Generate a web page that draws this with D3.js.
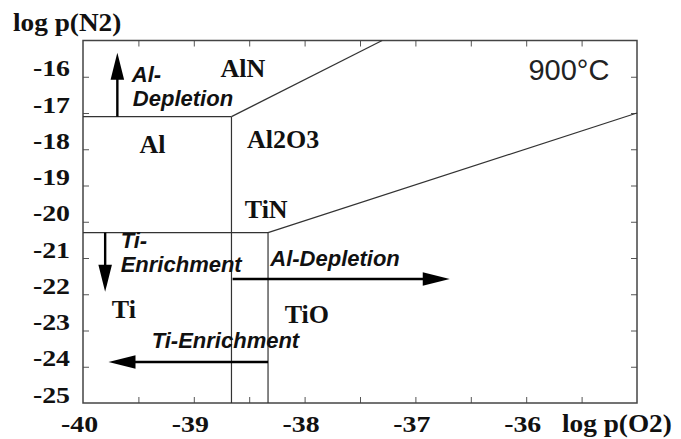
<!DOCTYPE html>
<html>
<head>
<meta charset="utf-8">
<script src="https://cdn.jsdelivr.net/npm/d3@7"></script>
<style>
  body { margin: 0; background: #fff; }
  svg { display: block; }
</style>
</head>
<body>
<svg id="chart" width="681" height="439"></svg>
<script>
// stability diagram, 900°C : log p(O2) on x, log p(N2) on y

// phase boundaries [logpO2, logpN2]
const alAlnBoundary = [[-40, -17.1], [-38.66, -17.1]];
const alnAl2o3Boundary = [[-38.66, -17.1], [-37.3, -15]];
const alAl2o3Boundary = [[-38.66, -17.1], [-38.66, -25]];
const tiTinBoundary = [[-40, -20.3], [-38.33, -20.3]];
const tinTioBoundary = [[-38.33, -20.3], [-35, -17]];
const tiTioBoundary = [[-38.33, -20.3], [-38.33, -25]];

// arrows: start, tip
const arrowFrom = [[-39.69, -17.1], [-39.8, -20.3], [-38.65, -21.58], [-38.33, -23.87]];
const arrowTo = [[-39.69, -15.34], [-39.8, -21.93], [-36.69, -21.58], [-39.77, -23.87]];

// phase names and where they sit
const phaseNames = ['AlN', 'Al', 'Al2O3', 'TiN', 'Ti', 'TiO'];
const phaseAt = [[-38.76, -16.0], [-39.49, -18.1], [-38.52, -17.97], [-38.54, -19.9], [-39.74, -22.66], [-38.18, -22.8]];

// italic notes
const noteText = ['Al-', 'Depletion', 'Ti-', 'Enrichment', 'Al-Depletion', 'Ti-Enrichment'];
const noteAt = [[-39.56, -16.14], [-39.55, -16.81], [-39.66, -20.72], [-39.66, -21.38], [-38.31, -21.22], [-39.38, -23.48]];

const tempLabel = '900°C';
const tempAt = [-35.98, -16.09];

// axes
const xDomain = [-40, -35];
const yDomain = [-25, -15];
const xLabelled = [-40, -39, -38, -37, -36];
const xTickMarks = [-39.5, -39, -38.5, -38, -37.5, -37, -36.5, -36, -35.5];
const yLabelled = [-16, -17, -18, -19, -20, -21, -22, -23, -24, -25];
const yTickMarks = [-16, -17, -18, -19, -20, -21, -22, -23, -24];

const svg = d3.select('#chart');
const x = d3.scaleLinear(xDomain, [83, 637]);
const y = d3.scaleLinear(yDomain, [403, 40.5]);

const serif = '"Liberation Serif", "Times New Roman", serif';
const sans = '"Liberation Sans", Arial, sans-serif';
const stretch = 1.16; // scanned labels are a bit wide

// tick marks, all inward
svg.append('g').attr('transform', `translate(0,${y(-25)})`)
    .call(d3.axisBottom(x).tickValues(xTickMarks).tickSize(-6).tickFormat(''))
    .call(g => g.select('.domain').remove());
svg.append('g').attr('transform', `translate(0,${y(-15)})`)
    .call(d3.axisTop(x).tickValues(xTickMarks).tickSize(-6).tickFormat(''))
    .call(g => g.select('.domain').remove());
svg.append('g').attr('transform', `translate(${x(-40)},0)`)
    .call(d3.axisLeft(y).tickValues(yTickMarks).tickSize(-6).tickFormat(''))
    .call(g => g.select('.domain').remove());
svg.append('g').attr('transform', `translate(${x(-35)},0)`)
    .call(d3.axisRight(y).tickValues(yTickMarks).tickSize(-6).tickFormat(''))
    .call(g => g.select('.domain').remove());
svg.selectAll('.tick line').attr('stroke', '#555').attr('stroke-width', 1);

// tick labels
const xAx = svg.append('g').attr('transform', `translate(0,${y(-25)})`)
    .call(d3.axisBottom(x).tickValues(xLabelled).tickSize(0).tickFormat(d => String(d)));
xAx.select('.domain').remove();
xAx.selectAll('text')
    .attr('x', -4 / stretch).attr('y', 29).attr('dy', 0)
    .attr('transform', `scale(${stretch},1)`)
    .attr('font-family', serif).attr('font-weight', 'bold').attr('font-size', 24).attr('fill', '#111');

const yAx = svg.append('g').attr('transform', `translate(${x(-40)},0)`)
    .call(d3.axisLeft(y).tickValues(yLabelled).tickSize(0).tickFormat(d => String(d)));
yAx.select('.domain').remove();
yAx.selectAll('text')
    .attr('x', -13 / stretch).attr('dy', -1)
    .attr('transform', `scale(${stretch},1)`)
    .attr('font-family', serif).attr('font-weight', 'bold').attr('font-size', 24).attr('fill', '#111');

// axis titles
svg.append('text').attr('transform', 'translate(13,31) scale(1.07,1)')
    .attr('font-family', serif).attr('font-weight', 'bold').attr('font-size', 25.5).attr('fill', '#111')
    .text('log p(N2)');
svg.append('text').attr('transform', 'translate(562,432) scale(1.07,1)')
    .attr('font-family', serif).attr('font-weight', 'bold').attr('font-size', 25.5).attr('fill', '#111')
    .text('log p(O2)');

// frame
svg.append('rect')
    .attr('x', x(-40)).attr('y', y(-15))
    .attr('width', x(-35) - x(-40)).attr('height', y(-25) - y(-15))
    .attr('fill', 'none').attr('stroke', '#444').attr('stroke-width', 1.5);

// phase boundaries
const line = d3.line().x(d => x(d[0])).y(d => y(d[1]));
const boundaries = [alAlnBoundary, alnAl2o3Boundary, alAl2o3Boundary, tiTinBoundary, tinTioBoundary, tiTioBoundary];
svg.append('g').selectAll('path')
    .data(boundaries)
    .enter().append('path')
    .attr('d', line)
    .attr('fill', 'none')
    .attr('stroke', '#333')
    .attr('stroke-width', 1.2);

// arrows
const headLen = 27, headHalf = 6.8;
const arrowG = svg.append('g');
arrowFrom.forEach((a, i) => {
    const b = arrowTo[i];
    const x0 = x(a[0]), y0 = y(a[1]), x1 = x(b[0]), y1 = y(b[1]);
    const len = Math.hypot(x1 - x0, y1 - y0);
    const ux = (x1 - x0) / len, uy = (y1 - y0) / len;
    const bx = x1 - ux * headLen, by = y1 - uy * headLen;
    arrowG.append('line')
        .attr('x1', x0).attr('y1', y0).attr('x2', bx + ux * 2).attr('y2', by + uy * 2)
        .attr('stroke', '#000').attr('stroke-width', 2.4);
    arrowG.append('path')
        .attr('d', `M${x1},${y1}L${bx - uy * headHalf},${by + ux * headHalf}L${bx + uy * headHalf},${by - ux * headHalf}Z`)
        .attr('fill', '#000');
});

// phase labels
svg.append('g').selectAll('text')
    .data(phaseNames)
    .enter().append('text')
    .attr('x', (d, i) => x(phaseAt[i][0]))
    .attr('y', (d, i) => y(phaseAt[i][1]))
    .attr('font-family', serif).attr('font-weight', 'bold').attr('font-size', 26).attr('fill', '#111')
    .text(d => d);

// italic notes
svg.append('g').selectAll('text')
    .data(noteText)
    .enter().append('text')
    .attr('x', (d, i) => x(noteAt[i][0]))
    .attr('y', (d, i) => y(noteAt[i][1]))
    .attr('font-family', sans).attr('font-weight', 'bold').attr('font-style', 'italic')
    .attr('font-size', 22).attr('fill', '#111')
    .text(d => d);

// temperature
svg.append('text')
    .attr('x', x(tempAt[0])).attr('y', y(tempAt[1]))
    .attr('font-family', sans).attr('font-size', 29).attr('fill', '#222')
    .text(tempLabel);
</script>
</body>
</html>
